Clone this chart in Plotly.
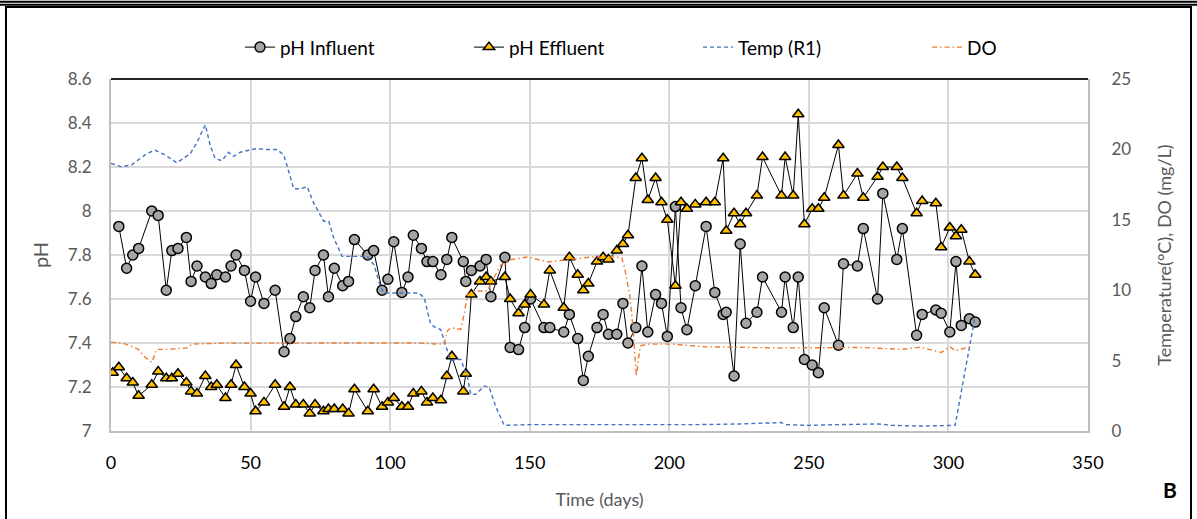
import plotly.graph_objects as go

# ---------------- data ----------------
days = [0.6, 2.8, 5.6, 7.8, 9.9, 14.6, 16.9, 19.8, 21.8, 24.0, 27.0, 28.7, 30.8, 33.8, 35.9,
        37.9, 41.0, 43.0, 44.8, 47.8, 50.0, 51.8, 54.8, 58.8, 62.0, 64.1, 66.2, 68.9, 71.2,
        73.1, 76.1, 77.9, 80.0, 83.0, 85.1, 87.2, 92.0, 94.1, 97.1, 99.2, 101.3, 104.2, 106.4,
        108.3, 111.2, 113.2, 115.3, 118.2, 120.3, 122.1, 126.2, 127.1, 129.1, 132.2, 134.4,
        136.1, 141.1, 143.0, 146.0, 148.2, 150.3, 155.1, 157.2, 162.2, 164.2, 167.2, 169.2,
        171.0, 174.1, 176.3, 178.2, 181.2, 183.4, 185.2, 188.0, 190.2, 192.3, 195.1, 197.2,
        199.3, 202.2, 204.2, 206.3, 209.3, 213.2, 216.3, 219.3, 220.4, 223.2, 225.4, 227.5,
        231.4, 233.4, 240.2, 241.5, 244.4, 246.2, 248.4, 251.2, 253.4, 255.5, 260.6, 262.4,
        267.4, 269.5, 274.6, 276.5, 281.5, 283.5, 288.6, 290.6, 295.5, 297.4, 300.5, 302.7,
        304.6, 307.5, 309.6]

ph_influent = [None, 7.93, 7.74, 7.80, 7.83, 8.00, 7.98, 7.64, 7.82, 7.83, 7.88, 7.68, 7.75, 7.70,
               7.67, 7.71, 7.70, 7.75, 7.80, 7.73, 7.59, 7.70, 7.58, 7.64, 7.36, 7.42, 7.52, 7.61,
               7.56, 7.73, 7.80, 7.61, 7.74, 7.66, 7.68, 7.87, 7.80, 7.82, 7.64, 7.69, 7.86, 7.63,
               7.70, 7.89, 7.83, 7.77, 7.77, 7.71, 7.78, 7.88, 7.77, 7.68, 7.73, 7.75, 7.78, 7.61,
               7.79, 7.38, 7.37, 7.47, 7.60, 7.47, 7.47, 7.45, 7.53, 7.42, 7.23, 7.34, 7.47, 7.53,
               7.44, 7.44, 7.58, 7.40, 7.47, 7.75, 7.45, 7.62, 7.58, 7.43, 8.02, 7.56, 7.46, 7.66,
               7.93, 7.63, 7.53, 7.54, 7.25, 7.85, 7.49, 7.54, 7.70, 7.54, 7.70, 7.47, 7.70, 7.325,
               7.30, 7.265, 7.56, 7.39, 7.76, 7.75, 7.92, 7.60, 8.08, 7.78, 7.92, 7.435, 7.53, 7.55,
               7.535, 7.45, 7.77, 7.48, 7.51, 7.495]

ph_effluent = [7.265, 7.29, 7.24, 7.22, 7.16, 7.21, 7.27, 7.24, 7.24, 7.26, 7.22, 7.18, 7.17, 7.25,
               7.20, 7.21, 7.15, 7.21, 7.30, 7.20, 7.17, 7.09, 7.13, 7.21, 7.11, 7.20, 7.12, 7.12,
               7.08, 7.12, 7.09, 7.10, 7.10, 7.10, 7.08, 7.19, 7.09, 7.19, 7.11, 7.13, 7.15, 7.11,
               7.11, 7.17, 7.18, 7.13, 7.15, 7.14, 7.25, 7.34, 7.18, 7.26, 7.62, 7.68, 7.70, 7.68,
               7.70, 7.60, 7.535, 7.575, 7.62, 7.575, 7.73, 7.56, 7.79, 7.71, 7.64, 7.67, 7.77, 7.79,
               7.78, 7.82, 7.85, 7.89, 8.15, 8.24, 8.05, 8.15, 8.04, 7.96, 7.66, 8.04, 8.01, 8.03,
               8.04, 8.04, 8.24, 7.91, 7.99, 7.94, 7.99, 8.07, 8.245, 8.07, 8.245, 8.07, 8.44, 7.94,
               8.01, 8.01, 8.06, 8.30, 8.07, 8.17, 8.06, 8.156, 8.20, 8.20, 8.15, 7.99, 8.045, 8.035,
               7.835, 7.925, 7.885, 7.915, 7.77, 7.71]

temp_days = [0, 3.8, 7.4, 12.8, 15.8, 19.4, 23.6, 28.4, 30.8, 33.8, 35.5, 37.3, 39.7, 42.1, 43.9,
             46.3, 49.3, 52.3, 55.9, 59.5, 61.9, 63.7, 65.5, 67.9, 70.3, 72.6, 76.2, 78.0, 79.8,
             82.8, 87.0, 91.8, 94.2, 96.6, 97.8, 103.8, 110.3, 112.2, 114.5, 116.3, 118.1, 120.5,
             121.7, 125.3, 127.7, 128.9, 130.7, 133.7, 135.5, 137.9, 140.9, 150, 170, 190, 200,
             210, 225, 235, 240, 242, 250, 260, 270, 275, 280, 290, 302.4, 309.6]
temp_r1 = [19.0, 18.76, 18.9, 19.7, 19.94, 19.6, 19.05, 19.7, 20.5, 21.75, 20.3, 19.35, 19.2, 19.8,
           19.5, 19.8, 19.94, 20.06, 19.99, 19.99, 19.6, 18.4, 17.2, 17.2, 17.35, 16.2, 14.9, 14.9,
           13.7, 12.4, 12.4, 12.4, 11.8, 10.2, 9.8, 9.8, 9.8, 9.46, 7.6, 7.34, 7.2, 5.7, 5.0, 5.1,
           3.8, 2.6, 2.6, 3.2, 3.1, 1.7, 0.4, 0.45, 0.45, 0.4, 0.4, 0.45, 0.5, 0.55, 0.6, 0.45,
           0.4, 0.45, 0.45, 0.5, 0.4, 0.35, 0.4, 8.2]

do_days = [0, 4, 6.8, 9.8, 11.6, 14.6, 16.4, 20, 27.2, 29, 40, 60, 80, 100, 110, 117, 119.3, 120.5,
           121.7, 125.3, 126.5, 127.7, 130.1, 134.9, 136.1, 139.7, 143.3, 149.3, 156.4, 163.6, 172,
           180.4, 183, 184, 185.8, 187, 187.6, 188.2, 189, 189.7, 192.3, 200.7, 212.7, 240, 269,
           283.3, 290, 297.4, 300.6, 302.4, 307.8]
do_mgl = [6.3, 6.25, 6.05, 5.8, 5.35, 4.87, 5.8, 5.8, 5.9, 6.17, 6.24, 6.24, 6.28, 6.28, 6.25, 6.17,
          6.17, 7.1, 7.34, 7.22, 8.28, 9.7, 9.94, 9.94, 10.5, 11.8, 12.17, 12.36, 12.0, 12.17, 12.36,
          12.36, 12.3, 11.58, 9.7, 7.34, 5.93, 3.9, 5.2, 6.05, 6.17, 6.17, 5.98, 5.9, 5.93, 5.8, 5.95,
          5.58, 5.98, 5.7, 5.98]

ph_ticks = [7, 7.2, 7.4, 7.6, 7.8, 8, 8.2, 8.4, 8.6]
ph_tick_text = ["7", "7.2", "7.4", "7.6", "7.8", "8", "8.2", "8.4", "8.6"]
x_ticks = [0, 50, 100, 150, 200, 250, 300, 350]
right_ticks = [0, 5, 10, 15, 20, 25]

# ---------------- figure ----------------
FONT = "Lato"
GREY = "#595959"

fig = go.Figure()

fig.add_trace(go.Scatter(
    x=days, y=ph_influent, name="pH Influent", mode="lines+markers",
    line=dict(color="black", width=1),
    marker=dict(symbol="circle", size=10, color="#a5a5a5", line=dict(color="black", width=1.5)),
))
fig.add_trace(go.Scatter(
    x=days, y=ph_effluent, name="pH Effluent", mode="lines+markers",
    line=dict(color="black", width=1),
    marker=dict(symbol="triangle-up", size=10, color="#ffc000", line=dict(color="black", width=1.5)),
))
fig.add_trace(go.Scatter(
    x=temp_days, y=temp_r1, name="Temp (R1)", mode="lines", yaxis="y2",
    line=dict(color="#4472c4", width=1.4, dash="4px,3px"),
))
fig.add_trace(go.Scatter(
    x=do_days, y=do_mgl, name="DO", mode="lines", yaxis="y2",
    line=dict(color="#ed7d31", width=1.4, dash="5px,3px,1.5px,3px"),
))

L, R, T, B = 111, 109, 79, 85
W, H = 1197, 519
pw, ph = W - L - R, H - T - B


def px(xp):
    return (xp - L) / pw


def py(yp):
    return (H - B - yp) / ph


shapes = [
    # plot-area top border
    dict(type="line", xref="paper", yref="paper", x0=0, x1=1, y0=1, y1=1,
         line=dict(color="#262626", width=2)),
    # outer frame lines
    dict(type="line", xref="paper", yref="paper", x0=px(0), x1=px(W), y0=py(1), y1=py(1),
         line=dict(color="black", width=2)),
    dict(type="line", xref="paper", yref="paper", x0=px(0), x1=px(W), y0=py(4), y1=py(4),
         line=dict(color="black", width=2)),
    dict(type="rect", xref="paper", yref="paper", x0=px(6), x1=px(1191), y0=py(6.5), y1=py(530),
         line=dict(color="black", width=2)),
]

fig.update_layout(
    width=W, height=H,
    margin=dict(l=L, r=R, t=T, b=B, pad=0),
    paper_bgcolor="white", plot_bgcolor="white",
    font=dict(family=FONT, color=GREY, size=17),
    showlegend=True,
    legend=dict(
        orientation="h", x=px(240), xanchor="left", y=py(47), yanchor="middle",
        font=dict(family=FONT, size=19, color="black"),
        entrywidth=184, itemwidth=30, bgcolor="rgba(0,0,0,0)",
        traceorder="normal",
    ),
    xaxis=dict(
        range=[0, 350], tickvals=x_ticks, showgrid=True, gridcolor="#d9d9d9", gridwidth=2,
        showline=True, linecolor="#bfbfbf", linewidth=2, zeroline=False,
        tickfont=dict(family=FONT, size=18, color="black"), ticklabelstandoff=14,
        title=dict(text="Time (days)", font=dict(family=FONT, size=18, color=GREY), standoff=22),
    ),
    yaxis=dict(
        range=[7, 8.6], tickvals=ph_ticks, ticktext=ph_tick_text, showgrid=True,
        gridcolor="#d9d9d9", gridwidth=2, showline=True, linecolor="#bfbfbf", linewidth=2,
        zeroline=False, tickfont=dict(family=FONT, size=17, color=GREY), ticklabelstandoff=14,
        title=dict(text="pH", font=dict(family=FONT, size=20, color=GREY), standoff=14),
    ),
    yaxis2=dict(
        range=[0, 25], tickvals=right_ticks, overlaying="y", side="right", showgrid=False,
        showline=True, linecolor="#bfbfbf", linewidth=2, zeroline=False,
        tickfont=dict(family=FONT, size=17, color=GREY), ticklabelstandoff=18,
        title=dict(text="Temperature(°C), DO (mg/L)", font=dict(family=FONT, size=18, color=GREY),
                   standoff=28),
    ),
    shapes=shapes,
    annotations=[
        dict(text="<b>B</b>", xref="paper", yref="paper", x=px(1170), y=py(493),
             xanchor="center", yanchor="middle", showarrow=False,
             font=dict(family=FONT, size=21, color="black")),
    ],
)

fig.write_html("out.html")
